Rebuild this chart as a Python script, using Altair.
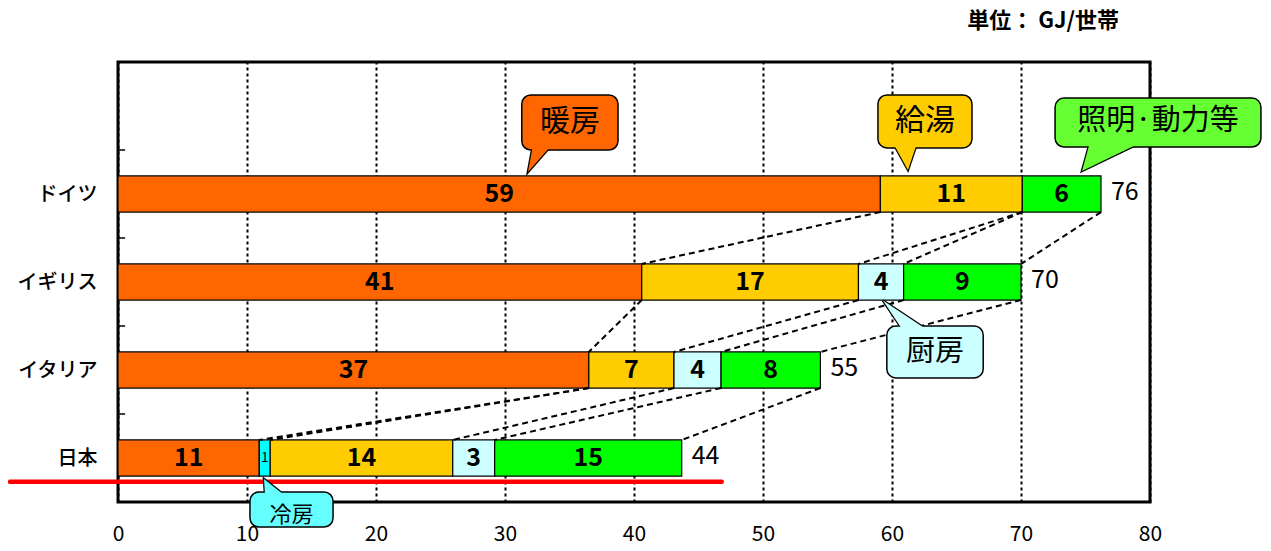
import altair as alt
import pandas as pd

# ---------------- data ----------------
countries = ["ドイツ", "イギリス", "イタリア", "日本"]
uses = ["暖房", "冷房", "給湯", "厨房", "照明・動力等"]
use_colors = ["#FF6600", "#00FFFF", "#FFCC00", "#CCFFFF", "#00FF00"]

heating = [59.1, 40.6, 36.5, 10.95]
cooling = [0.0, 0.0, 0.0, 0.85]
hotwater = [11.0, 16.8, 6.6, 14.15]
kitchen = [0.0, 3.5, 3.65, 3.25]
lighting = [6.1, 9.1, 7.7, 14.5]

heating_lbl = ["59", "41", "37", "11"]
cooling_lbl = ["", "", "", "1"]
hotwater_lbl = ["11", "17", "7", "14"]
kitchen_lbl = ["", "4", "4", "3"]
lighting_lbl = ["6", "9", "8", "15"]
total_lbl = ["76", "70", "55", "44"]

x_ticks = [0, 10, 20, 30, 40, 50, 60, 70, 80]
band_edges = [1, 2, 3, 4]

# callouts (data coordinates)
callout_text = ["暖房", "給湯", "照明·動力等", "厨房", "冷房"]
callout_fill = ["#FF6600", "#FFCC00", "#66FF33", "#CCFFFF", "#66FFFF"]
callout_size = [30, 30, 29, 29, 22]
box_x0 = [31.3, 58.91, 72.64, 59.6, 10.23]
box_x1 = [38.76, 66.2, 88.6, 67.07, 16.67]
box_y0 = [0.375, 0.375, 0.41, 3.0, 4.886]
box_y1 = [1.0, 0.977, 0.966, 3.59, 5.284]
text_y = [0.68, 0.67, 0.67, 3.3, 5.15]
tip_x = [31.78, 61.24, 74.73, 59.3, 11.32]
tip_y = [1.25, 1.227, 1.239, 2.71, 4.739]
base_x0 = [32.17, 60.08, 75.35, 60.85, 11.4]
base_x1 = [33.64, 61.94, 79.38, 62.8, 12.95]
base_y = [0.94, 0.92, 0.91, 3.05, 4.93]

FONT = "Noto Sans CJK JP"
HALF = 0.205  # half bar thickness in band units

# ---------------- tables ----------------
series = [heating, cooling, hotwater, kitchen, lighting]
labels = [heating_lbl, cooling_lbl, hotwater_lbl, kitchen_lbl, lighting_lbl]

seg_rows, ends, tot_rows = [], [], []
for i, c in enumerate(countries):
    start = 0.0
    e = []
    for u, vals, lbls in zip(uses, series, labels):
        v = vals[i]
        if v > 0:
            seg_rows.append(dict(country=c, use=u, x0=start, x1=start + v,
                                 xm=start + v / 2, yc=i + 1.5,
                                 y0=i + 1.5 - HALF, y1=i + 1.5 + HALF,
                                 label=lbls[i], w=v))
        start += v
        e.append(start)
    ends.append(e)
    tot_rows.append(dict(x=start, yc=i + 1.5, label=total_lbl[i]))
seg = pd.DataFrame(seg_rows)
tot = pd.DataFrame(tot_rows)

con_rows = set()
for i in range(len(countries) - 1):
    for k in range(len(uses)):
        con_rows.add((round(ends[i][k], 4), i + 1.5 + HALF,
                      round(ends[i + 1][k], 4), i + 2.5 - HALF))
con = pd.DataFrame(sorted(con_rows), columns=["xa", "ya", "xb", "yb"])

tick_df = pd.DataFrame({"y": band_edges})

tail_rows, box_rows = [], []
for j, t in enumerate(callout_text):
    box_rows.append(dict(name=t, fill=callout_fill[j], x0=box_x0[j], x1=box_x1[j],
                         y0=box_y0[j], y1=box_y1[j],
                         xm=(box_x0[j] + box_x1[j]) / 2, ym=text_y[j],
                         size=callout_size[j]))
    pts = [(base_x0[j], base_y[j]), (tip_x[j], tip_y[j]), (base_x1[j], base_y[j])]
    for vi, (px, py) in enumerate(pts):
        tail_rows.append(dict(name=t, fill=callout_fill[j], vi=vi, x=px, y=py))
boxes = pd.DataFrame(box_rows)
tails = pd.DataFrame(tail_rows)

red_line = pd.DataFrame({"x0": [-8.37], "x1": [46.8], "y": [4.77]})
unit_df = pd.DataFrame({"x": [77.6], "y": [-0.47], "t": ["単位：  GJ/世帯"]})

# ---------------- scales ----------------
xs = alt.Scale(domain=[0, 80], nice=False, zero=False)
ys = alt.Scale(domain=[0, 5], nice=False, zero=False, reverse=True)

label_expr = "[''," + ",".join("'%s'" % c for c in countries) + "][floor(datum.value)]"

x_axis = alt.Axis(values=x_ticks, grid=True, gridColor="black", gridDash=[3, 3],
                  gridWidth=2, ticks=False, domain=False, title=None,
                  labelFontSize=21, labelPadding=32, labelBaseline="middle",
                  labelFlush=False, labelColor="black", labelFont=FONT)
y_axis = alt.Axis(values=[1.5, 2.5, 3.5, 4.5], labelExpr=label_expr, grid=False,
                  ticks=False, domain=False, title=None, labelFontSize=20,
                  labelFontWeight=500, labelPadding=21, labelColor="black", labelFont=FONT)

X = lambda f: alt.X(f, scale=xs, title=None)
Y = lambda f: alt.Y(f, scale=ys, title=None)

bars = alt.Chart(seg).mark_rect(stroke="black", strokeWidth=1.2).encode(
    x=alt.X("x0:Q", scale=xs, axis=x_axis),
    x2="x1:Q",
    y=alt.Y("y0:Q", scale=ys, axis=y_axis),
    y2="y1:Q",
    color=alt.Color("use:N", scale=alt.Scale(domain=uses, range=use_colors), legend=None),
)

big_lbl = alt.Chart(seg).transform_filter("datum.w >= 2").mark_text(
    font=FONT, fontSize=25, fontWeight="bold", color="black", baseline="middle"
).encode(x=X("xm:Q"), y=Y("yc:Q"), text="label:N")

small_lbl = alt.Chart(seg).transform_filter("datum.w < 2").mark_text(
    font=FONT, fontSize=13, color="black", baseline="middle"
).encode(x=X("xm:Q"), y=Y("yc:Q"), text="label:N")

totals = alt.Chart(tot).mark_text(
    font=FONT, fontSize=25, color="black", align="left", baseline="middle", dx=10, dy=-2
).encode(x=X("x:Q"), y=Y("yc:Q"), text="label:N")

connectors = alt.Chart(con).mark_rule(color="black", strokeWidth=2, strokeDash=[6, 4]).encode(
    x=X("xa:Q"), x2="xb:Q", y=Y("ya:Q"), y2="yb:Q",
)

yticks = alt.Chart(tick_df).mark_rule(color="black", strokeWidth=1.5).encode(
    x=alt.datum(0), x2=alt.datum(0.55), y=Y("y:Q"),
)

red = alt.Chart(red_line).mark_rule(color="#FF0000", strokeWidth=4.5, strokeCap="round").encode(
    x=X("x0:Q"), x2="x1:Q", y=Y("y:Q"),
)

tail_outline = alt.Chart(tails).mark_line(
    interpolate="linear-closed", stroke="black", strokeWidth=2.5
).encode(
    x=X("x:Q"), y=Y("y:Q"),
    fill=alt.Fill("fill:N", scale=None), detail="name:N", order="vi:Q",
)
box_rect = alt.Chart(boxes).mark_rect(stroke="black", strokeWidth=1.5, cornerRadius=9).encode(
    x=X("x0:Q"), x2="x1:Q", y=Y("y0:Q"), y2="y1:Q",
    fill=alt.Fill("fill:N", scale=None),
)
tail_fill = alt.Chart(tails).mark_line(
    interpolate="linear-closed", strokeWidth=0, strokeOpacity=0
).encode(
    x=X("x:Q"), y=Y("y:Q"),
    fill=alt.Fill("fill:N", scale=None), detail="name:N", order="vi:Q",
)
box_text = alt.Chart(boxes).mark_text(font=FONT, color="black", baseline="middle").encode(
    x=X("xm:Q"), y=Y("ym:Q"),
    text="name:N", size=alt.Size("size:Q", scale=None),
)

unit = alt.Chart(unit_df).mark_text(font=FONT, fontSize=22, fontWeight="bold", color="black",
                                     align="right", baseline="middle").encode(
    x=X("x:Q"), y=Y("y:Q"), text="t:N")

chart = alt.layer(
    bars, connectors, yticks, big_lbl, small_lbl, totals, red,
    tail_outline, box_rect, tail_fill, box_text, unit,
).properties(
    width=1032, height=440,
    padding={"left": 110, "top": 54, "right": 112, "bottom": 43},
    autosize=alt.AutoSizeParams(type="none"),
    background="white",
).configure_view(stroke="black", strokeWidth=3).configure_text(font=FONT)

chart.save("out.html", embed_options={"renderer": "svg", "actions": False})
